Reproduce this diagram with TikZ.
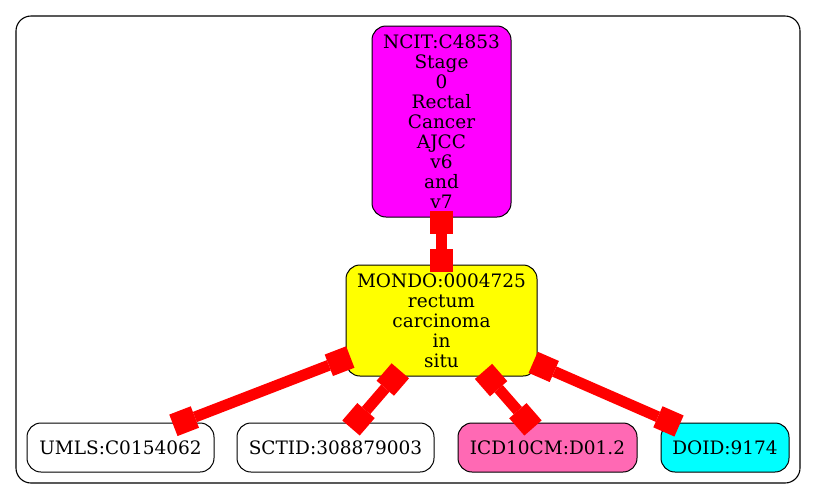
\documentclass[tikz,border=0pt]{standalone}
\usepackage{fontspec}
\setmainfont{DejaVu Serif}
\usetikzlibrary{arrows.meta}
\definecolor{hotpinkc}{HTML}{FF69B4}
\definecolor{magentac}{HTML}{FF00FF}
\definecolor{yellowc}{HTML}{FFFF00}
\definecolor{cyanc}{HTML}{00FFFF}
\definecolor{redc}{HTML}{FF0000}
\tikzset{
  termbox/.style={draw=black, line width=1pt, rounded corners=14pt, inner sep=0pt,
    align=center, font=\fontsize{18.5}{20}\selectfont},
  edgeline/.style={draw=redc, line width=11pt,
    >={Rectangle[length=23pt,width=23pt,line width=0pt]}, <->},
}
\begin{document}
\begin{tikzpicture}[x=1pt,y=-1pt]
\useasboundingbox (0,0) rectangle (816,499);
\draw[line width=1.1pt, rounded corners=15pt] (16,16) rectangle (800,483);

\node[termbox, fill=magentac, minimum width=139pt, minimum height=191pt] (ncit) at (441.5,121.5)
  {NCIT:C4853\\Stage\\0\\Rectal\\Cancer\\AJCC\\v6\\and\\v7};
\node[termbox, fill=yellowc, minimum width=191pt, minimum height=111pt] (mondo) at (441.5,320.5)
  {MONDO:0004725\\rectum\\carcinoma\\in\\situ};
\node[termbox, fill=white, minimum width=187pt, minimum height=49pt] (umls) at (120.5,447.5) {UMLS:C0154062};
\node[termbox, fill=white, minimum width=197pt, minimum height=49pt] (sctid) at (335.5,447.5) {SCTID:308879003};
\node[termbox, fill=hotpinkc, minimum width=179pt, minimum height=49pt] (icd) at (547.5,447.5) {ICD10CM:D01.2};
\node[termbox, fill=cyanc, minimum width=128pt, minimum height=49pt] (doid) at (725,447.5) {DOID:9174};

\draw[edgeline] ([shift={(0,89.5)}]ncit.center) -- ([shift={(0,-48.5)}]mondo.center);
\draw[edgeline] ([shift={(-91.2,36.5)}]mondo.center) -- ([shift={(52.9,-22.2)}]umls.center);
\draw[edgeline] ([shift={(-41.2,50.3)}]mondo.center) -- ([shift={(15.5,-19.5)}]sctid.center);
\draw[edgeline] ([shift={(42,50.9)}]mondo.center) -- ([shift={(-14.5,-19.5)}]icd.center);
\draw[edgeline] ([shift={(91.7,41.8)}]mondo.center) -- ([shift={(-46,-21.5)}]doid.center);
\end{tikzpicture}
\end{document}
